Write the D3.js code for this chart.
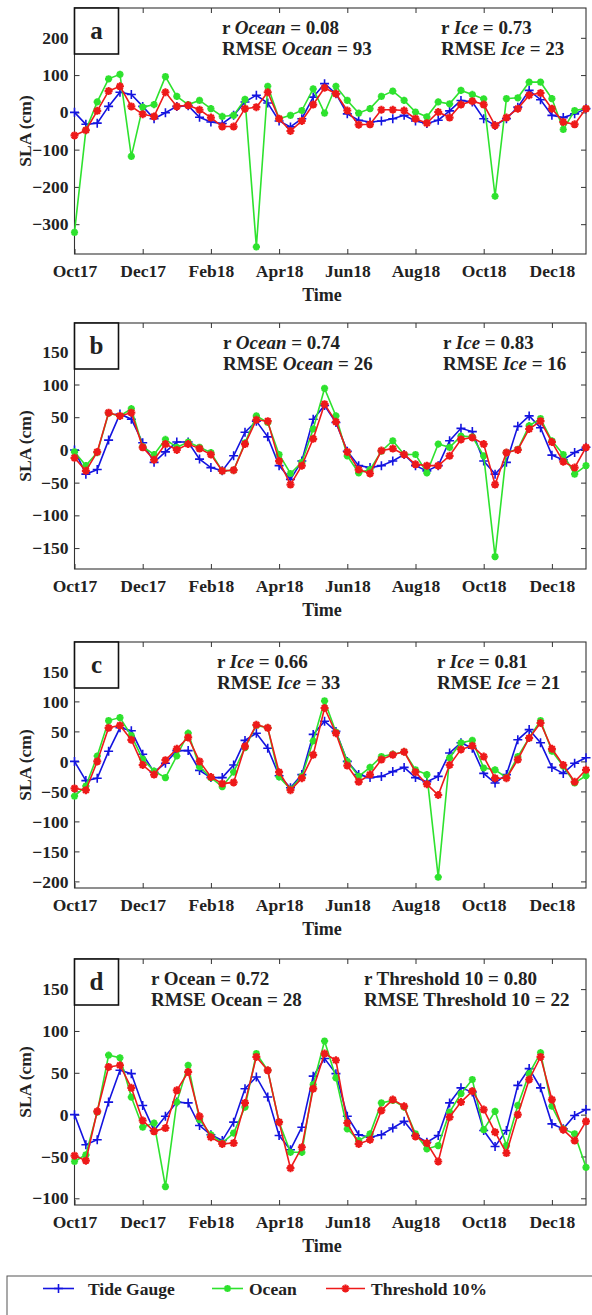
<!DOCTYPE html>
<html>
<head>
<meta charset="utf-8">
<script src="https://cdn.jsdelivr.net/npm/d3@7"></script>
<style>
  body { margin: 0; background: #fff; }
  text { font-family: "Liberation Serif", "Times New Roman", serif; font-weight: bold; fill: #222; }
</style>
</head>
<body>
<script>
// x tick labels (every 2 months, starting Oct 2017); points are every ~10 days (3 per month)
const tickMonths = ["Oct17", "Dec17", "Feb18", "Apr18", "Jun18", "Aug18", "Oct18", "Dec18"];
const letters = ["a", "b", "c", "d"];

// panel a
const tideA = [0,-32,-29,16,54,48,16,-17,-1,16,18,-13,-26,-30,-8,28,46,25,-23,-39,-17,41,77,50,-4,-21,-26,-23,-17,-8,-23,-30,-21,4,32,28,-17,-35,-17,14,59,34,-8,-14,-4,10];
const oceanA = [-322,-48,28,90,102,-118,14,21,96,43,21,32,10,-11,-8,35,-361,70,-17,-8,5,63,-2,70,32,-2,10,43,57,32,1,-12,28,23,59,48,36,-225,37,39,81,81,37,-46,5,10];
const threshA = [-62,-48,4,57,70,16,-5,-11,54,16,19,7,-14,-38,-38,10,14,54,-17,-50,-23,21,66,50,5,-33,-32,7,7,5,-17,-29,1,-14,21,30,21,-35,-14,10,46,52,10,-26,-32,10];
// panel b
const tideB = [0,-37,-30,15,55,47,11,-19,-3,12,12,-14,-27,-32,-9,27,44,20,-24,-45,-17,47,68,42,-2,-24,-27,-24,-17,-7,-24,-32,-24,14,33,28,-17,-37,-19,36,52,34,-8,-15,-4,4];
const oceanB = [-3,-24,-4,56,52,63,5,-7,16,4,12,4,-4,-32,-31,11,52,42,-7,-36,-19,32,94,52,-9,-35,-30,-2,14,-7,-7,-35,9,4,21,20,-9,-163,-4,1,37,48,14,-7,-37,-24];
const threshB = [-12,-32,-3,57,52,57,4,-15,9,0,9,2,-7,-32,-31,9,46,44,-17,-53,-24,17,70,43,-3,-30,-36,-1,2,-7,-22,-24,-24,-9,16,19,9,-53,-4,0,32,44,12,-18,-27,4];
// panel c
const tideC = [0,-32,-28,17,56,51,12,-18,-3,18,18,-15,-27,-27,-6,35,47,22,-24,-44,-22,45,67,50,0,-22,-27,-25,-17,-10,-27,-34,-25,14,31,22,-20,-36,-22,36,53,31,-10,-20,-3,6];
const oceanC = [-58,-41,9,68,73,43,4,-16,-27,9,47,-9,-27,-42,-18,23,60,56,-26,-46,-25,34,101,49,0,-25,-10,8,12,16,-14,-22,-193,6,31,35,-11,-14,-27,8,39,68,17,-8,-36,-24];
const threshC = [-45,-48,0,56,60,36,-6,-22,2,21,40,0,-26,-37,-35,25,61,56,-18,-48,-28,11,89,47,-7,-34,-22,3,11,16,-18,-38,-56,-6,20,26,8,-28,-28,3,39,64,21,-6,-34,-14];
// panel d
const tideD = [0,-36,-30,15,53,49,11,-19,-2,15,14,-13,-24,-31,-9,31,45,21,-25,-42,-15,46,67,49,-2,-24,-27,-24,-16,-8,-25,-33,-25,14,32,27,-19,-38,-19,35,55,32,-11,-17,-1,6];
const oceanD = [-56,-48,3,71,68,21,-15,-10,-86,15,59,-6,-24,-34,-22,9,73,53,-9,-45,-45,36,88,44,-17,-31,-23,14,17,9,-23,-41,-37,3,25,42,-18,4,-37,11,49,74,10,-17,-23,-63];
const threshD = [-49,-55,4,57,59,32,-7,-20,-16,29,51,-2,-27,-35,-34,14,69,53,-9,-64,-39,31,73,65,-10,-35,-30,5,18,10,-26,-34,-56,-3,15,28,6,-21,-46,0,42,69,18,-18,-31,-8];

// y axis ranges and ticks
const yDomains = [[-380, 280], [-182, 194], [-211, 199], [-108, 186]];
const yTicks = [
  [-300, -200, -100, 0, 100, 200],
  [-150, -100, -50, 0, 50, 100, 150],
  [-200, -150, -100, -50, 0, 50, 100, 150],
  [-100, -50, 0, 50, 100, 150]
];

// statistics text: [left block, right block], each line = segments of [text, italic]
const notes = [
  [[[["r ", 0], ["Ocean", 1], [" = 0.08", 0]], [["RMSE ", 0], ["Ocean", 1], [" = 93", 0]]],
   [[["r ", 0], ["Ice", 1], [" = 0.73", 0]], [["RMSE ", 0], ["Ice", 1], [" = 23", 0]]]],
  [[[["r ", 0], ["Ocean", 1], [" = 0.74", 0]], [["RMSE ", 0], ["Ocean", 1], [" = 26", 0]]],
   [[["r ", 0], ["Ice", 1], [" = 0.83", 0]], [["RMSE ", 0], ["Ice", 1], [" = 16", 0]]]],
  [[[["r ", 0], ["Ice", 1], [" = 0.66", 0]], [["RMSE ", 0], ["Ice", 1], [" = 33", 0]]],
   [[["r ", 0], ["Ice", 1], [" = 0.81", 0]], [["RMSE ", 0], ["Ice", 1], [" = 21", 0]]]],
  [[[["r Ocean = 0.72", 0]], [["RMSE Ocean = 28", 0]]],
   [[["r Threshold 10 = 0.80", 0]], [["RMSE Threshold 10 = 22", 0]]]]
];

const seriesNames = ["Tide Gauge", "Ocean", "Threshold 10%"];
const panelData = [
  [tideA, oceanA, threshA],
  [tideB, oceanB, threshB],
  [tideC, oceanC, threshC],
  [tideD, oceanD, threshD]
];

// layout
const colors = ["#1414e0", "#2ee22e", "#ee1a1a"];
const left = 74.5, right = 586, ph = 246;
const tops = [8, 323, 642, 959];
const noteX = [[222, 441], [223, 443], [217, 437], [151, 364]];

const svg = d3.select("body").append("svg")
    .attr("width", 592)
    .attr("height", 1315);

const x = d3.scaleLinear().domain([0, 15]).range([left, right]);
const tickPos = tickMonths.map((m, i) => i * 2);

// marker drawing: 0 = plus, 1/2 = asterisk
function marker(sel, kind, color) {
    if (kind === 0) {
        sel.append("path").attr("d", "M-4.5,0H4.5M0,-4.5V4.5")
            .attr("stroke", color).attr("stroke-width", 1.6).attr("fill", "none");
    } else {
        const r = kind === 1 ? 3.6 : 4;
        let d = "";
        [0, 45, 90, 135].forEach(a => {
            const dx = r * Math.cos(a * Math.PI / 180), dy = r * Math.sin(a * Math.PI / 180);
            d += `M${-dx},${-dy}L${dx},${dy}`;
        });
        sel.append("path").attr("d", d)
            .attr("stroke", color).attr("stroke-width", 2.2).attr("fill", "none");
        sel.append("circle").attr("r", r * 0.55).attr("fill", color);
    }
}

panelData.forEach((series, k) => {
    const top = tops[k];
    const y = d3.scaleLinear().domain(yDomains[k]).range([top + ph, top]);
    const g = svg.append("g");

    // axes with inward ticks
    const styleAxis = a => {
        a.select(".domain").remove();
        a.selectAll(".tick line").attr("stroke", "#333");
        a.selectAll("text").attr("font-size", 17.5).attr("fill", "#333")
            .attr("font-family", "Liberation Serif, serif").attr("font-weight", "bold");
    };
    g.append("g").attr("transform", `translate(0,${top + ph})`)
        .call(d3.axisBottom(x).tickValues(tickPos).tickFormat((d, i) => tickMonths[i])
            .tickSizeInner(-5).tickSizeOuter(0).tickPadding(11))
        .call(styleAxis);
    g.append("g").attr("transform", `translate(0,${top})`)
        .call(d3.axisTop(x).tickValues(tickPos).tickFormat("").tickSizeInner(-5).tickSizeOuter(0))
        .call(styleAxis);
    g.append("g").attr("transform", `translate(${left},0)`)
        .call(d3.axisLeft(y).tickValues(yTicks[k]).tickSizeInner(-5).tickSizeOuter(0).tickPadding(6))
        .call(styleAxis);
    g.append("g").attr("transform", `translate(${right},0)`)
        .call(d3.axisRight(y).tickValues(yTicks[k]).tickFormat("").tickSizeInner(-5).tickSizeOuter(0))
        .call(styleAxis);

    g.append("rect")
        .attr("x", left).attr("y", top).attr("width", right - left).attr("height", ph)
        .attr("fill", "none").attr("stroke", "#333").attr("stroke-width", 1.1);

    // lines + markers
    const line = d3.line().x((d, i) => x(i / 3)).y(d => y(d));
    series.forEach((vals, s) => {
        g.append("path").datum(vals)
            .attr("d", line)
            .attr("fill", "none")
            .attr("stroke", colors[s])
            .attr("stroke-width", 1.6);
        g.selectAll(".m" + s).data(vals).enter().append("g")
            .attr("transform", (d, i) => `translate(${x(i / 3)},${y(d)})`)
            .each(function () { marker(d3.select(this), s, colors[s]); });
    });

    // letter box
    g.append("rect").attr("x", left).attr("y", top).attr("width", 44).attr("height", 46)
        .attr("fill", "#fff").attr("stroke", "#111").attr("stroke-width", 1.6);
    g.append("text").attr("x", left + 22).attr("y", top + 31)
        .attr("text-anchor", "middle").attr("font-size", 25).attr("fill", "#111")
        .text(letters[k]);

    // stats
    notes[k].forEach((block, b) => {
        block.forEach((segs, l) => {
            const t = g.append("text")
                .attr("x", noteX[k][b]).attr("y", top + 26 + l * 21)
                .attr("font-size", 19).attr("fill", "#222");
            segs.forEach(sg => t.append("tspan").attr("font-style", sg[1] ? "italic" : "normal").text(sg[0]));
        });
    });

    // axis titles
    g.append("text")
        .attr("transform", `translate(31,${top + ph / 2}) rotate(-90)`)
        .attr("text-anchor", "middle").attr("font-size", 17.5).attr("fill", "#333")
        .text("SLA (cm)");
    g.append("text")
        .attr("x", 322).attr("y", top + ph + 47)
        .attr("text-anchor", "middle").attr("font-size", 18).attr("fill", "#333")
        .text("Time");
});

// legend
const lg = svg.append("g");
lg.append("rect").attr("x", 7).attr("y", 1276).attr("width", 620).attr("height", 80)
    .attr("fill", "#fff").attr("stroke", "#555").attr("stroke-width", 1);
const legX = [[43, 74, 88], [212, 243, 249], [326, 365, 371]];
seriesNames.forEach((name, s) => {
    const [x0, x1, tx] = legX[s];
    lg.append("line").attr("x1", x0).attr("x2", x1).attr("y1", 1288.5).attr("y2", 1288.5)
        .attr("stroke", colors[s]).attr("stroke-width", 1.6);
    const m = lg.append("g").attr("transform", `translate(${(x0 + x1) / 2},1288.5)`);
    marker(m, s, colors[s]);
    lg.append("text").attr("x", tx).attr("y", 1294.5).attr("font-size", 17.5).attr("fill", "#111").text(name);
});
</script>
</body>
</html>
